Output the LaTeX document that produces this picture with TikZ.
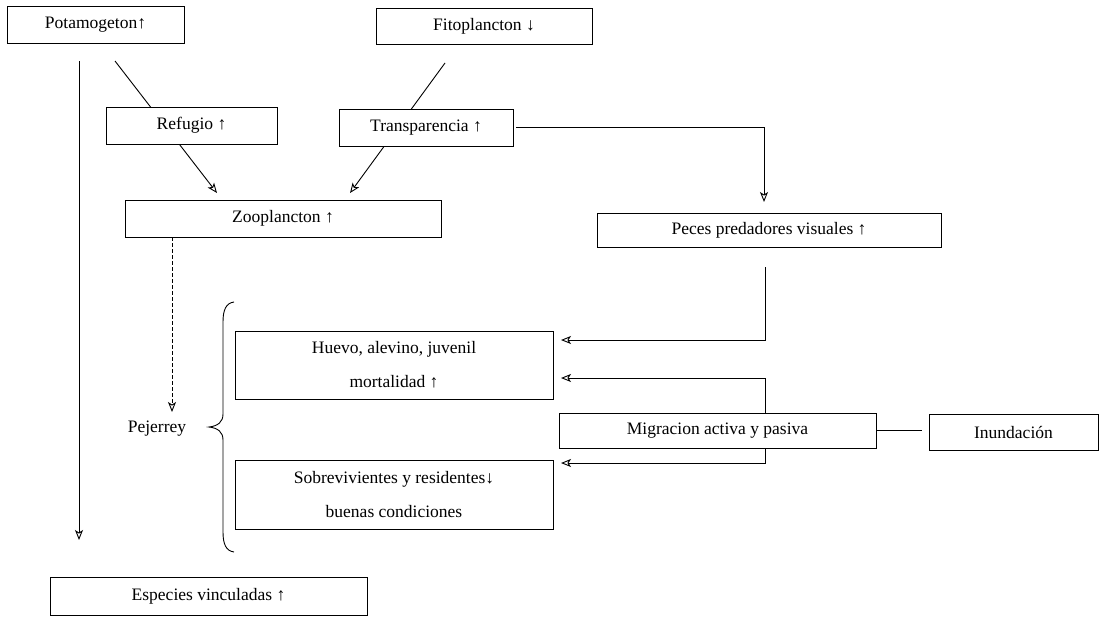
\documentclass[tikz,border=0pt]{standalone}
\usepackage{fontspec}
\setmainfont{Liberation Serif}
\usetikzlibrary{arrows.meta}
\pgfdeclarelayer{bg}
\pgfsetlayers{bg,main}
\begin{document}
\begin{tikzpicture}[x=1pt,y=-1pt,
  box/.style={draw, line width=0.9pt, fill=white, inner sep=0pt, align=center,
              font=\fontsize{17.5}{34}\selectfont},
  conn/.style={line width=0.9pt},
  arr/.style={conn,-{Stealth[open,length=10pt,width=8pt,inset=2.5pt]}}]
\useasboundingbox (0,0) rectangle (1103,616);

% nodes
\node[box, minimum width=177pt, minimum height=37pt] (pot)   at (95.5,24.5) {Potamogeton↑};
\node[box, minimum width=216pt, minimum height=36pt] (fito)  at (484,26)    {Fitoplancton ↓};
\node[box, minimum width=171pt, minimum height=37pt] (ref)   at (191.5,125.5) {Refugio ↑};
\node[box, minimum width=174pt, minimum height=37pt] (trans) at (426,127.5) {Transparencia ↑};
\node[box, minimum width=316pt, minimum height=37pt] (zoo)   at (283,218.5) {Zooplancton ↑};
\node[box, minimum width=344pt, minimum height=34pt] (peces) at (769,230)   {Peces predadores visuales ↑};
\node[box, minimum width=318pt, minimum height=68pt] (huevo) at (394,365)   {Huevo, alevino, juvenil\\mortalidad ↑};
\node[box, minimum width=317pt, minimum height=35pt] (migr)  at (717.5,430.5) {Migracion activa y pasiva};
\node[box, minimum width=169pt, minimum height=36pt] (inund) at (1013.5,432) {Inundación};
\node[box, minimum width=318pt, minimum height=69pt] (sobr)  at (394,494.5) {Sobrevivientes y residentes↓\\buenas condiciones};
\node[box, minimum width=317pt, minimum height=38pt] (esp)   at (208.5,596) {Especies vinculadas ↑};
\node[font=\fontsize{17.5}{21}\selectfont] (pej) at (157,429) {Pejerrey};

% free ends of connectors
\coordinate (p1)  at (79,61);
\coordinate (p1e) at (79,540);
\coordinate (p2)  at (115,61);
\coordinate (p2e) at (217,193);
\coordinate (f1)  at (445,63);
\coordinate (f1e) at (350,193);
\coordinate (tp)  at (764,202);
\coordinate (ph)  at (765,267);
\coordinate (h1)  at (561,340);
\coordinate (h2)  at (561,378);
\coordinate (s1)  at (561,463);
\coordinate (pj)  at (172,412);

\begin{pgfonlayer}{bg}
  \fill[white] (0,0) rectangle (1103,616);
  \draw[arr] (p1) -- (p1e);
  \draw[arr] (p2) -- (p2e);
  \draw[arr] (f1) -- (f1e);
\end{pgfonlayer}

\draw[arr] ([xshift=3pt]trans.east) -| (tp);
\draw[arr] (ph) |- (h1);
\draw[arr] (migr.north -| ph) |- (h2);
\draw[arr] (migr.south -| ph) |- (s1);
\draw[conn] (migr.east) -- ++(46,0);
\draw[arr, dash pattern=on 4pt off 2pt] (zoo.south -| pj) -- (pj);

% brace
\draw[conn] (234,302) .. controls (226,303) and (223,310) .. (223,322)
  -- (223,414) .. controls (223,422) and (218,426) .. (209,427)
  .. controls (218,428) and (223,432) .. (223,440)
  -- (223,532) .. controls (223,544) and (226,551) .. (234,552);
\end{tikzpicture}
\end{document}
